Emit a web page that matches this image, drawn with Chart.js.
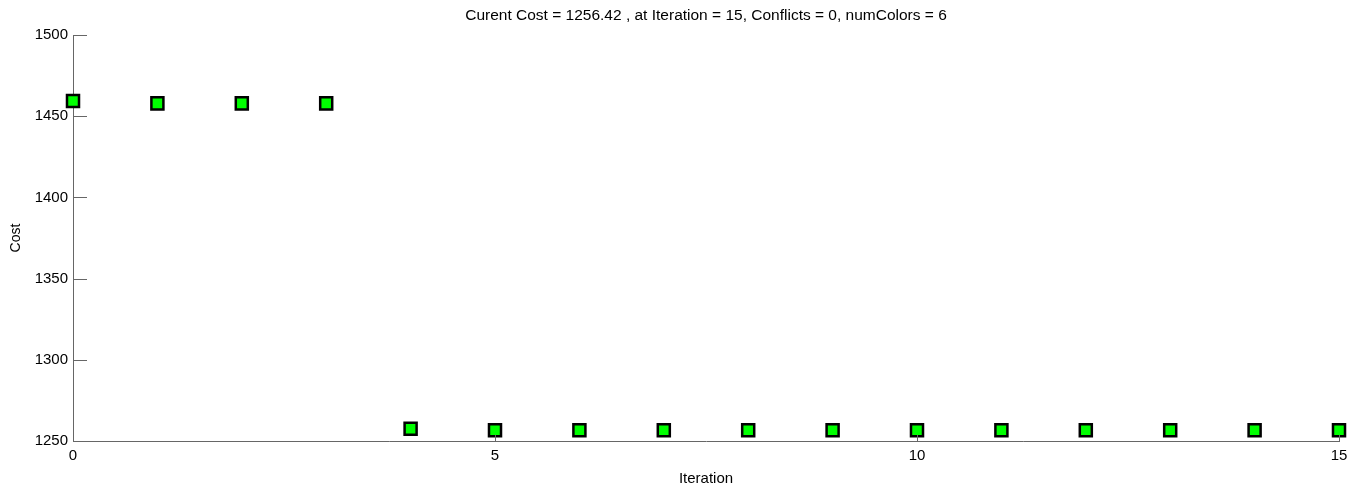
<!DOCTYPE html>
<html>
<head>
<meta charset="utf-8">
<script src="https://cdn.jsdelivr.net/npm/chart.js@4"></script>
<style>
  html, body { margin: 0; padding: 0; background: #fff; }
  #wrap { width: 1357px; height: 484px; position: relative; }
</style>
</head>
<body>
<div id="wrap"><canvas id="costChart"></canvas></div>
<script>
// values
const iterations = [0, 1, 2, 3, 4, 5, 6, 7, 8, 9, 10, 11, 12, 13, 14, 15];
const costs = [1459.4, 1457.9, 1457.9, 1457.9, 1257.6, 1256.6, 1256.6, 1256.6,
               1256.6, 1256.6, 1256.6, 1256.6, 1256.6, 1256.6, 1256.6, 1256.6];
const xTicks = [0, 5, 10, 15];
const yTicks = [1250, 1300, 1350, 1400, 1450, 1500];
const titleText = 'Curent Cost = 1256.42 , at Iteration = 15, Conflicts = 0, numColors = 6';

const fontFam = "Arial, 'Liberation Sans', sans-serif";
const axisColor = '#666666';

// inside tick marks + title centred over the plot area (matlab look)
const matlabTicks = {
  id: 'matlabTicks',
  afterDraw(chart) {
    const ctx = chart.ctx;
    const area = chart.chartArea;
    const xs = chart.scales.x, ys = chart.scales.y;
    ctx.save();
    ctx.strokeStyle = axisColor;
    ctx.lineWidth = 1;
    yTicks.forEach(v => {
      const py = Math.round(ys.getPixelForValue(v)) + 0.5;
      ctx.beginPath();
      ctx.moveTo(area.left, py);
      ctx.lineTo(area.left + 14, py);
      ctx.stroke();
    });
    xTicks.forEach(v => {
      const px = Math.round(xs.getPixelForValue(v)) + 0.5;
      ctx.beginPath();
      ctx.moveTo(px, area.bottom);
      ctx.lineTo(px, area.bottom - 6);
      ctx.stroke();
    });
    ctx.fillStyle = '#000';
    ctx.font = '15.5px ' + fontFam;
    ctx.textAlign = 'center';
    ctx.textBaseline = 'middle';
    ctx.fillText(titleText, (area.left + area.right) / 2, 16);
    ctx.restore();
  }
};

const ctx = document.getElementById('costChart').getContext('2d');
new Chart(ctx, {
  type: 'scatter',
  data: {
    datasets: [{
      data: iterations.map((x, i) => ({ x: x, y: costs[i] })),
      pointStyle: 'rect',
      pointRadius: 8.5,
      pointHoverRadius: 8.5,
      backgroundColor: '#00ff00',
      borderColor: '#000000',
      borderWidth: 2.5,
      clip: false
    }]
  },
  options: {
    responsive: true,
    maintainAspectRatio: false,
    animation: false,
    layout: { padding: { top: 35, right: 18, left: 0, bottom: 0 } },
    plugins: {
      legend: { display: false },
      title: { display: false },
      tooltip: { enabled: false }
    },
    scales: {
      x: {
        type: 'linear',
        min: 0,
        max: 15,
        afterBuildTicks: s => { s.ticks = xTicks.map(v => ({ value: v })); },
        afterFit: s => { s.height = 43; },
        grid: { display: false, drawTicks: false },
        border: { display: true, color: axisColor, width: 1 },
        ticks: { color: '#000', font: { family: fontFam, size: 15 }, padding: 6, maxRotation: 0, callback: v => String(v) },
        title: { display: true, text: 'Iteration', color: '#000', font: { family: fontFam, size: 15 }, padding: { top: 0, bottom: -4 } }
      },
      y: {
        type: 'linear',
        min: 1250,
        max: 1500,
        afterBuildTicks: s => { s.ticks = yTicks.map(v => ({ value: v })); },
        afterFit: s => { s.width = 73; },
        grid: { display: false, drawTicks: false },
        border: { display: true, color: axisColor, width: 1 },
        ticks: { color: '#000', font: { family: fontFam, size: 15 }, padding: 5, callback: v => String(v) },
        title: { display: true, text: 'Cost', color: '#000', font: { family: fontFam, size: 14 }, padding: { top: 8, bottom: 0 } }
      }
    }
  },
  plugins: [matlabTicks]
});
</script>
</body>
</html>
